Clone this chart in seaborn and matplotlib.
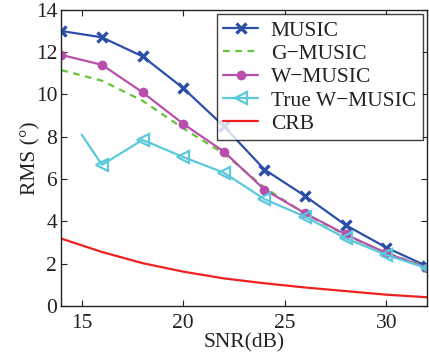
import matplotlib
matplotlib.use("Agg")
import matplotlib.pyplot as plt
import seaborn as sns
import pandas as pd

snr = [14, 16, 18, 20, 22, 24, 26, 28, 30, 32]
music = [13.0, 12.7, 11.8, 10.3, 8.5, 6.45, 5.2, 3.82, 2.76, 1.88]
g_music = [11.15, 10.65, 9.7, 8.4, 7.2, 5.6, 4.35, 3.35, 2.5, 1.85]
w_music = [11.87, 11.4, 10.1, 8.61, 7.3, 5.5, 4.38, 3.38, 2.5, 1.8]
snr_true = [15, 16, 18, 20, 22, 24, 26, 28, 30, 32]
true_w_music = [8.1, 6.67, 7.85, 7.04, 6.3, 5.05, 4.22, 3.2, 2.41, 1.78]
crb = [3.18, 2.55, 2.02, 1.62, 1.3, 1.07, 0.87, 0.7, 0.53, 0.41]

xticks = [15, 20, 25, 30]
yticks = [0, 2, 4, 6, 8, 10, 12, 14]

sns.set_theme(style="ticks")
plt.rcParams["font.family"] = ["Liberation Serif", "DejaVu Serif"]
plt.rcParams["xtick.direction"] = "in"
plt.rcParams["ytick.direction"] = "in"

fig = plt.figure(figsize=(4.29, 3.52), dpi=100)
ax = fig.add_axes([0.143, 0.131, 0.852, 0.841])

df1 = pd.DataFrame({"snr": snr, "MUSIC": music, "G-MUSIC": g_music,
                    "W-MUSIC": w_music, "CRB": crb})
df2 = pd.DataFrame({"snr": snr_true, "True W-MUSIC": true_w_music})

c_music = "#2b4fa8"
c_g = "#66c43a"
c_w = "#b84fad"
c_t = "#5cc8dc"
c_crb = "#ee2020"

sns.lineplot(data=df1, x="snr", y="MUSIC", ax=ax, color=c_music, lw=1.6,
             marker="x", markersize=6.5, markeredgewidth=2.4,
             markeredgecolor=c_music, label="MUSIC")
sns.lineplot(data=df1, x="snr", y="G-MUSIC", ax=ax, color=c_g, lw=1.6,
             linestyle=(0, (3, 2.5)), label="G\u2212MUSIC")
sns.lineplot(data=df1, x="snr", y="W-MUSIC", ax=ax, color=c_w, lw=1.6,
             marker="o", markersize=7, markeredgewidth=0,
             markeredgecolor=c_w, label="W\u2212MUSIC")
sns.lineplot(data=df2, x="snr", y="True W-MUSIC", ax=ax, color=c_t, lw=1.6,
             marker="<", markersize=9, markerfacecolor="none",
             markeredgecolor=c_t, markeredgewidth=1.6,
             markevery=list(range(1, len(snr_true))), label="True W\u2212MUSIC")
sns.lineplot(data=df1, x="snr", y="CRB", ax=ax, color=c_crb, lw=1.6, label="CRB")

ax.set_xlim(14, 32)
ax.set_ylim(0, 14)
ax.set_xticks(xticks)
ax.set_yticks(yticks)
ax.tick_params(axis="both", which="both", top=True, right=True, labelsize=15.5,
               length=4, width=0.8, colors="#222222")
ax.tick_params(axis="x", pad=6)
ax.tick_params(axis="y", pad=3)
for s in ax.spines.values():
    s.set_color("#222222")
    s.set_linewidth(1.0)
ax.set_xlabel("SNR(dB)", fontsize=15.5, labelpad=0, color="#222222")
ax.set_ylabel("RMS (\u00b0)", fontsize=15.5, labelpad=-3.5, color="#222222")

leg = ax.legend(loc="upper right", fontsize=15.5, frameon=True, fancybox=False,
                borderpad=0.3, labelspacing=0.15, handlelength=1.6,
                handletextpad=0.6, borderaxespad=0.2)
leg.get_frame().set_edgecolor("#111111")
leg.get_frame().set_linewidth(1.0)
for t in leg.get_texts():
    t.set_color("#222222")

fig.savefig("out.png", dpi=100)
